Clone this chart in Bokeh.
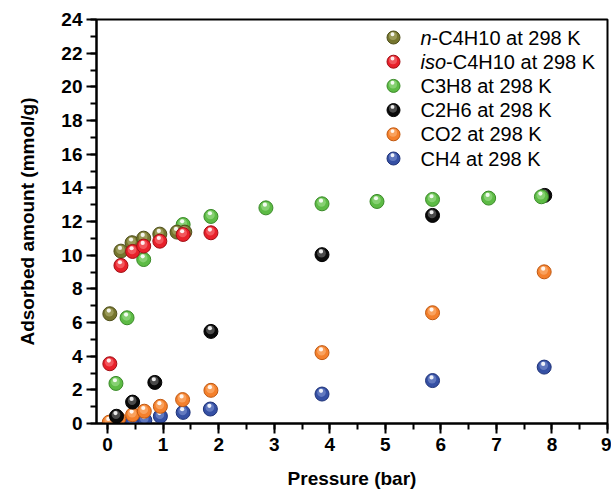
from bokeh.plotting import figure
from bokeh.models import Range1d, SingleIntervalTicker, ColumnDataSource
from bokeh.transform import dodge
from bokeh.core.properties import value
from bokeh.embed import file_html
from bokeh.resources import INLINE

# ---------------- data ----------------
nC4_x = [0.04, 0.24, 0.44, 0.65, 0.94, 1.25, 1.39]
nC4_y = [6.52, 10.24, 10.74, 11.01, 11.25, 11.37, 11.37]
iC4_x = [0.04, 0.24, 0.45, 0.65, 0.94, 1.36, 1.86]
iC4_y = [3.55, 9.39, 10.22, 10.54, 10.83, 11.23, 11.33]
c3_x = [0.15, 0.35, 0.65, 1.36, 1.86, 2.85, 3.86, 4.85, 5.85, 6.86, 7.81]
c3_y = [2.38, 6.28, 9.74, 11.82, 12.30, 12.81, 13.05, 13.19, 13.31, 13.39, 13.47]
c2_x = [0.16, 0.45, 0.85, 1.86, 3.86, 5.85, 7.87]
c2_y = [0.43, 1.27, 2.44, 5.47, 10.03, 12.36, 13.55]
co2_x = [0.03, 0.20, 0.45, 0.66, 0.95, 1.35, 1.86, 3.86, 5.85, 7.86]
co2_y = [0.08, 0.28, 0.52, 0.73, 1.02, 1.42, 1.97, 4.21, 6.58, 9.01]
ch4_x = [0.05, 0.20, 0.45, 0.67, 0.95, 1.36, 1.85, 3.86, 5.85, 7.86]
ch4_y = [0.02, 0.06, 0.15, 0.19, 0.43, 0.66, 0.86, 1.75, 2.55, 3.35]

label_prefix = ["n", "iso", "", "", "", ""]
label_suffix = ["-C4H10 at 298 K", "-C4H10 at 298 K", "C3H8 at 298 K",
                "C2H6 at 298 K", "CO2 at 298 K", "CH4 at 298 K"]

x_title = "Pressure (bar)"
y_title = "Adsorbed amount (mmol/g)"

# ---------------- styles ----------------
# (base, dark edge, light highlight)
styles = {
    "nC4": ("#75752e", "#4e4e1a", "#c8c88c"),
    "iC4": ("#e8202a", "#a00e14", "#ff9a9a"),
    "c3": ("#5dbb45", "#3a8a28", "#b8eaa8"),
    "c2": ("#0a0a0a", "#000000", "#9a9a9a"),
    "co2": ("#f4802c", "#c05810", "#ffc99a"),
    "ch4": ("#3550a4", "#1e3278", "#9aaae0"),
}
order_legend = ["nC4", "iC4", "c3", "c2", "co2", "ch4"]
draw_order = [("ch4", ch4_x, ch4_y), ("co2", co2_x, co2_y), ("c2", c2_x, c2_y),
              ("c3", c3_x, c3_y), ("nC4", nC4_x, nC4_y), ("iC4", iC4_x, iC4_y)]

W, H = 611, 494
BL, BR, BT, BB = 96, 4, 19, 71
FW, FH = W - BL - BR, H - BT - BB
X0, X1, Y0, Y1 = -0.2, 9.0, 0.0, 24.0

p = figure(width=W, height=H, output_backend="svg", toolbar_location=None,
           x_range=Range1d(X0, X1), y_range=Range1d(Y0, Y1),
           min_border_left=BL, min_border_right=BR, min_border_top=BT,
           min_border_bottom=BB)
p.grid.visible = False
p.outline_line_color = "black"
p.outline_line_width = 2
p.background_fill_color = "white"
p.border_fill_color = "white"

FONT = "Liberation Sans"
for ax in (p.xaxis[0], p.yaxis[0]):
    ax.axis_line_width = 2
    ax.major_tick_line_width = 2
    ax.minor_tick_line_width = 2
    ax.major_tick_out = 10
    ax.major_tick_in = 0
    ax.minor_tick_out = 6
    ax.minor_tick_in = 0
    ax.major_label_text_font = FONT
    ax.major_label_text_font_style = "bold"
    ax.major_label_text_font_size = "19px"
    ax.major_label_text_color = "black"
    ax.axis_label_text_font = FONT
    ax.axis_label_text_font_style = "bold"
    ax.axis_label_text_font_size = "19px"
    ax.axis_label_text_color = "black"
    ax.major_label_standoff = 4

p.xaxis[0].ticker = SingleIntervalTicker(interval=1, num_minor_ticks=2)
p.yaxis[0].ticker = SingleIntervalTicker(interval=2, num_minor_ticks=2)
p.xaxis[0].axis_label = x_title
p.yaxis[0].axis_label = y_title
p.xaxis[0].axis_label_standoff = 14
p.yaxis[0].axis_label_standoff = 20

px_x = (X1 - X0) / FW
px_y = (Y1 - Y0) / FH


def sphere(src, key, size, ux, uy, **rng):
    base, dark, light = styles[key]
    p.scatter("x", "y", source=src, size=size, fill_color=base,
              line_color=dark, line_width=1, **rng)
    p.scatter(dodge("x", -0.5 * ux, range=None), dodge("y", 1.5 * uy, range=None),
              source=src, size=size * 0.62, fill_color=light, fill_alpha=0.45,
              line_color=None, **rng)
    p.scatter(dodge("x", -1.0 * ux, range=None), dodge("y", 3.2 * uy, range=None),
              source=src, size=size * 0.3, fill_color="white", fill_alpha=0.9,
              line_color=None, **rng)


for key, xs, ys in draw_order:
    src = ColumnDataSource(dict(x=xs, y=ys))
    sphere(src, key, 14, px_x, px_y)

# ---------------- legend (manual, in frame-pixel ranges) ----------------
p.extra_x_ranges = {"lx": Range1d(0, FW)}
p.extra_y_ranges = {"ly": Range1d(0, FH)}
LEG_X, LEG_TOP, LEG_DY = 297, 386, 24.2
TXT_X = 324
FS = 20
pref_w = {"n": 0.556 * FS, "iso": 1.278 * FS, "": 0.0}

for i, key in enumerate(order_legend):
    yy = LEG_TOP - i * LEG_DY
    src = ColumnDataSource(dict(x=[LEG_X], y=[yy]))
    sphere(src, key, 13, 1, 1, x_range_name="lx", y_range_name="ly")
    if label_prefix[i]:
        p.text(x=[TXT_X], y=[yy], text=[label_prefix[i]], x_range_name="lx",
               y_range_name="ly", text_font=value(FONT), text_font_size=value(f"{FS}px"),
               text_font_style="italic", text_baseline="middle", text_align="left",
               text_color="black")
    p.text(x=[TXT_X + pref_w[label_prefix[i]]], y=[yy], text=[label_suffix[i]],
           x_range_name="lx", y_range_name="ly", text_font=value(FONT),
           text_font_size=value(f"{FS}px"), text_baseline="middle", text_align="left",
           text_color="black")

open("out.html", "w").write(file_html(p, INLINE))
